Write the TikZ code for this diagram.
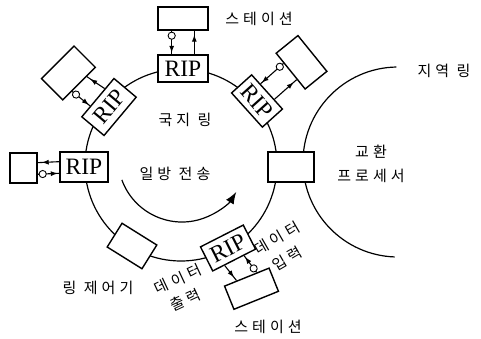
\documentclass[tikz,border=0pt]{standalone}
\usepackage{fontspec}
\setmainfont{Liberation Serif}
\newfontfamily\kr[LetterSpace=27]{Noto Sans CJK KR}
\usetikzlibrary{arrows.meta,calc,decorations.markings}
\begin{document}
\begin{tikzpicture}[x=1pt,y=1pt,
  ring/.style={line width=1.2pt},
  box/.style={draw, line width=1.4pt, fill=white, inner sep=0pt},
  ripbox/.style={box, minimum width=49pt, minimum height=28pt,
    font=\fontsize{23.5}{23.5}\selectfont},
  stbox/.style={box, minimum width=46pt, minimum height=28pt},
  lbl/.style={font=\kr\fontsize{15}{24}\selectfont, inner sep=0pt, align=center},
  feed/.style={line width=1.1pt, postaction={decorate},
    decoration={markings,
      mark=at position 5pt with {\draw[line width=0.9pt, fill=white] (0,0) circle[radius=3.6pt];},
      mark=at position -1.5pt with {\arrow{Latex[length=7pt,width=5pt]}}}},
  back/.style={line width=1.1pt, postaction={decorate},
    decoration={markings,
      mark=at position -4pt with {\arrow{Latex[length=7pt,width=5pt]}}}}]
\useasboundingbox (0,0) rectangle (481,338);

% local ring, regional ring and the one-way transfer arrow
\draw[ring] (181,173) circle[radius=96];
\draw[ring] (398,176) ++(91:95) arc[start angle=91, end angle=268, radius=95];
\draw[ring, -{Latex[length=12pt,width=9pt]}] (182,180) ++(200:64)
  arc[start angle=200, end angle=328, radius=64];

% exchange processor and ring controller
\node[box, minimum width=46pt, minimum height=30pt] (xp) at (291,171) {};
\node[box, minimum width=41pt, minimum height=28pt, rotate=-32] (rc) at (132,92) {};

% top station
\node[ripbox, minimum width=50pt, minimum height=27pt] (r1) at (183,269.5) {RIP};
\node[stbox, minimum width=50pt, minimum height=23pt] (s1) at ($(r1)+(90:50)$) {};
\draw[feed] ($(s1.south west)!0.28!(s1.south east)$) -- ($(r1.north west)!0.28!(r1.north east)$);
\draw[back] ($(r1.north west)!0.72!(r1.north east)$) -- ($(s1.south west)!0.72!(s1.south east)$);

% upper left station
\node[ripbox, minimum width=50pt, minimum height=29pt, rotate=50] (r2) at (109,231) {RIP};
\node[stbox, minimum height=30pt, rotate=45] (s2) at ($(r2)+(140:53)$) {};
\draw[feed] ($(s2.south west)!0.28!(s2.south east)$) -- ($(r2.north west)!0.28!(r2.north east)$);
\draw[back] ($(r2.north west)!0.72!(r2.north east)$) -- ($(s2.south west)!0.72!(s2.south east)$);

% upper right station
\node[ripbox, minimum width=46pt, minimum height=27pt, rotate=-48] (r3) at (257,237) {RIP};
\node[stbox, rotate=-51] (s3) at ($(r3)+(41:59)$) {};
\draw[feed] ($(s3.south west)!0.28!(s3.south east)$) -- ($(r3.north west)!0.28!(r3.north east)$);
\draw[back] ($(r3.north west)!0.72!(r3.north east)$) -- ($(s3.south west)!0.72!(s3.south east)$);

% left station
\node[ripbox, minimum width=48pt, minimum height=30pt] (r4) at (84,171) {RIP};
\node[stbox, minimum width=27pt, minimum height=30pt] (s4) at (23.5,170) {};
\draw[feed] ($(s4.north east)!0.7!(s4.south east)$) -- ($(r4.north west)!0.7!(r4.south west)$);
\draw[back] ($(r4.north west)!0.33!(r4.south west)$) -- ($(s4.north east)!0.33!(s4.south east)$);

% bottom station
\node[ripbox, minimum width=48pt, minimum height=27pt, rotate=27] (r5) at (228,90) {RIP};
\node[stbox, minimum width=48pt, minimum height=25pt, rotate=22] (s5) at ($(r5)+(-60:47)$) {};
\draw[feed] ($(s5.north west)!0.72!(s5.north east)$) -- ($(r5.south west)!0.72!(r5.south east)$);
\draw[back] ($(r5.south west)!0.28!(r5.south east)$) -- ($(s5.north west)!0.28!(s5.north east)$);

% labels
\node[lbl] (t1) at (259,319) {스테이션};
\node[lbl] (t2) at (444,267) {지역 링};
\node[lbl] (t3) at (185,218) {국지 링};
\node[lbl] (t4) at (175,164) {일방 전송};
\node[lbl] (t5) at (371,174) {교환\\프로세서};
\node[lbl, rotate=30] (t6) at (277,100) {데이터};
\node[lbl, rotate=30] (t7) at (287,79) {입력};
\node[lbl, rotate=25] (t8) at (178,59) {데이터};
\node[lbl, rotate=25] (t9) at (185,38) {출력};
\node[lbl] (t10) at (98,50) {링 제어기};
\node[lbl] (t11) at (268,11) {스테이션};
\end{tikzpicture}
\end{document}
